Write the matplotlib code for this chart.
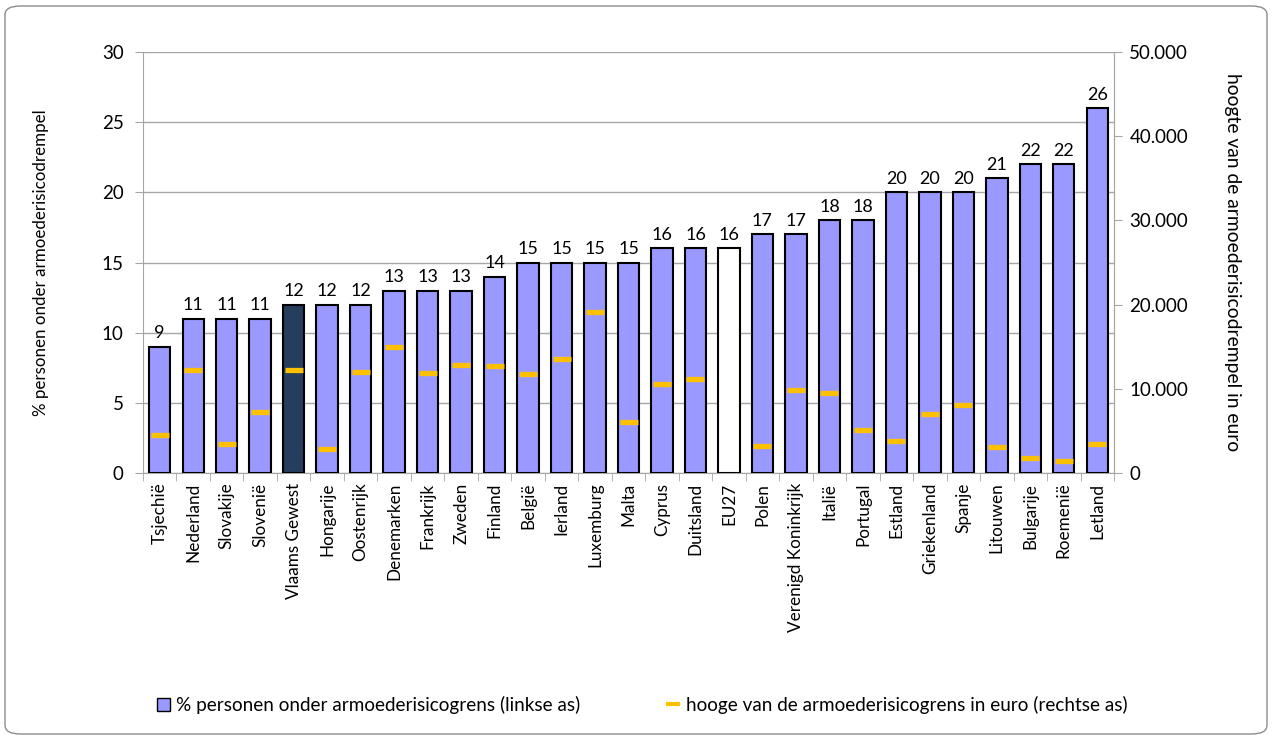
import matplotlib
matplotlib.use("Agg")
import matplotlib.pyplot as plt
from matplotlib.patches import FancyBboxPatch, Patch
from matplotlib.lines import Line2D
from matplotlib.ticker import FuncFormatter

plt.rcParams['font.family'] = ['Lato', 'DejaVu Sans']

countries = ["Tsjechië", "Nederland", "Slovakije", "Slovenië", "Vlaams Gewest", "Hongarije",
             "Oostenrijk", "Denemarken", "Frankrijk", "Zweden", "Finland", "België", "Ierland",
             "Luxemburg", "Malta", "Cyprus", "Duitsland", "EU27", "Polen", "Verenigd Koninkrijk",
             "Italië", "Portugal", "Estland", "Griekenland", "Spanje", "Litouwen", "Bulgarije",
             "Roemenië", "Letland"]
pct = [9, 11, 11, 11, 12, 12, 12, 13, 13, 13, 14, 15, 15, 15, 15, 16, 16, 16, 17, 17,
       18, 18, 20, 20, 20, 21, 22, 22, 26]
threshold = [4500, 12200, 3500, 7200, 12200, 2900, 12000, 15000, 11900, 12800, 12700, 11700,
             13500, 19100, 6100, 10600, 11200, None, 3200, 9850, 9500, 5100, 3800, 7000,
             8100, 3050, 1800, 1400, 3400]

bar_colors = []
for c in countries:
    if c == "Vlaams Gewest":
        bar_colors.append("#253E5E")
    elif c == "EU27":
        bar_colors.append("#FFFFFF")
    else:
        bar_colors.append("#9999FF")

fig = plt.figure(figsize=(12.72, 7.39), dpi=100)
ax = fig.add_axes([143/1272, 1-473/739, (1114-143)/1272, (473-52)/739])

x = list(range(len(countries)))
ax.bar(x, pct, width=0.64, color=bar_colors, edgecolor="black", linewidth=1.5, zorder=3)
for xi, v in zip(x, pct):
    ax.text(xi, v + 0.4, str(v), ha="center", va="bottom", fontsize=13, color="black")

ax.set_xlim(-0.5, len(countries) - 0.5)
ax.set_ylim(0, 30)
ax.set_yticks(range(0, 31, 5))
ax.yaxis.grid(True, color="#A6A6A6", linewidth=1, zorder=0)
ax.set_axisbelow(True)
ax.set_xticks(x)
ax.set_xticklabels(countries, rotation=90, fontsize=12.3)
ax.set_xticks([i - 0.5 for i in range(len(countries) + 1)], minor=True)
ax.tick_params(axis="x", which="major", length=0, pad=7)
ax.tick_params(axis="x", which="minor", length=6, color="#A6A6A6")
ax.tick_params(axis="y", labelsize=13.5, length=6, color="#A6A6A6", pad=8)
ax.spines["top"].set_visible(False)
for s in ["left", "right", "bottom"]:
    ax.spines[s].set_color("#A6A6A6")
ax.set_ylabel("% personen onder armoederisicodrempel", fontsize=12.2)
ax.yaxis.set_label_coords(-0.097, 0.5)

ax2 = ax.twinx()
ax2.set_ylim(0, 50000)
ax2.set_yticks(range(0, 50001, 10000))
ax2.yaxis.set_major_formatter(FuncFormatter(lambda v, p: f"{int(v):,}".replace(",", ".")))
tx = [xi for xi, t in zip(x, threshold) if t is not None]
ty = [t for t in threshold if t is not None]
ax2.plot(tx, ty, linestyle="none", marker="_", markersize=13.5, markeredgewidth=3.8,
         color="#FFC000", zorder=5)
ax2.tick_params(axis="y", labelsize=13.5, length=6, color="#A6A6A6", pad=5)
for s in ["top", "left", "bottom"]:
    ax2.spines[s].set_visible(False)
ax2.spines["right"].set_color("#A6A6A6")
ax2.set_ylabel("hoogte van de armoederisicodrempel in euro", fontsize=13.9, rotation=-90,
               va="center")
ax2.yaxis.set_label_coords(1.122, 0.5)

handles = [Patch(facecolor="#9999FF", edgecolor="black", linewidth=1,
                 label="% personen onder armoederisicogrens (linkse as)"),
           Line2D([], [], linestyle="none", marker="_", markersize=10, markeredgewidth=3,
                  color="#FFC000", label="hooge van de armoederisicogrens in euro (rechtse as)")]
fig.legend(handles=handles, loc="center", bbox_to_anchor=(642/1272, 1-705/739), ncol=2,
           frameon=False, fontsize=13.6, columnspacing=4.6, handlelength=0.7, handleheight=0.7,
           handletextpad=0.3)

border = FancyBboxPatch((5/1272, 5/739), 1262/1272, 728/739,
                        boxstyle="round,pad=0,rounding_size=0.012",
                        transform=fig.transFigure, facecolor="none",
                        edgecolor="#8C8C8C", linewidth=1)
fig.patches.append(border)

fig.savefig("out.png", dpi=100)
